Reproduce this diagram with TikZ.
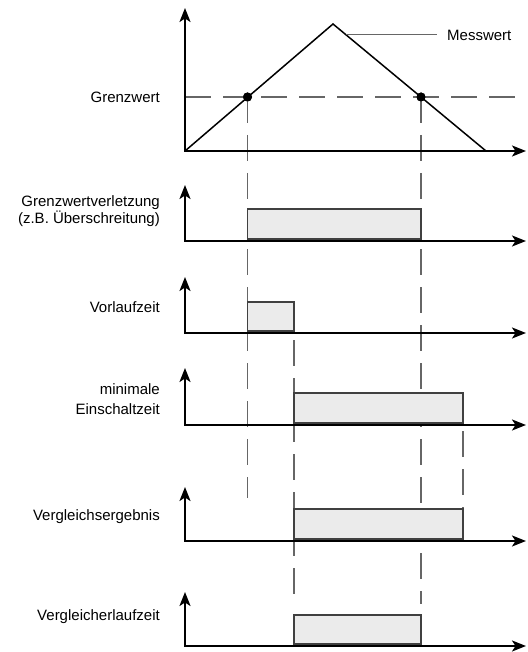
\documentclass[tikz,border=0pt]{standalone}
\usepackage{fontspec}
\setmainfont{Liberation Sans}
\usetikzlibrary{arrows.meta}
\begin{document}
\begin{tikzpicture}[x=1pt,y=-1pt,
 axis/.style={line width=1.8pt,line join=miter,{Stealth[length=14pt,width=11pt,inset=3.5pt]}-{Stealth[length=14pt,width=11pt,inset=3.5pt]}},
 guide/.style={draw=black!60,line width=1.3pt,dash pattern=on 26pt off 12pt},
 sig/.style={draw=black!75,fill=black!8,line width=1.2pt},
 lbl/.style={font=\fontsize{15}{17}\selectfont,anchor=east,align=right,inner sep=0pt},
 curve/.style={line width=1.5pt},
 leader/.style={draw=black!60,line width=1pt},
 dot/.style={circle,fill=black,inner sep=0pt,minimum size=9pt}]
\useasboundingbox (0,0) rectangle (527,652);

% axes coordinates
\foreach \n/\oy/\ty in {1/151/8,2/241/185,3/333/277,4/425/368,5/541/487,6/646/592}{
  \coordinate (o\n) at (185,\oy);
  \coordinate (yt\n) at (185,\ty);
  \coordinate (xt\n) at (526,\oy);
}

% measured value
\coordinate (p0) at (185,151);
\coordinate (peak) at (333,24);
\coordinate (pend) at (486,151);
\coordinate (lead) at (346,35);
\coordinate (gl) at (185,97);
\coordinate (gr) at (527,97);

% guide ends
\coordinate (g1e) at (247.5,498);
\coordinate (g2e) at (421,604);
\coordinate (g3s) at (294,302);
\coordinate (g3e) at (294,604);
\coordinate (g4s) at (463,393);
\coordinate (g4e) at (463,509);

\node[dot] (d1) at (247.5,97) {};
\node[dot] (d2) at (421,97) {};

% dashed guides
\draw[guide] (gl) -- (gr);
\draw[guide] (d1.center) -- (g1e);
\draw[guide] (d2.center) -- (g2e);
\draw[guide] (g3s) -- (g3e);
\draw[guide] (g4s) -- (g4e);

% signal boxes
\draw[sig] (247.5,209) rectangle (421,239);
\draw[sig] (247.5,302) rectangle (294,331);
\draw[sig] (294,393) rectangle (463,423);
\draw[sig] (294,509) rectangle (463,539);
\draw[sig] (294,615) rectangle (421,644);

% axes
\foreach \n in {1,...,6}{
  \draw[axis] (yt\n) -- (o\n) -- (xt\n);
}

% triangle
\draw[curve] (p0) -- (peak) -- (pend);
\node[dot] at (d1) {};
\node[dot] at (d2) {};

% labels
\node[anchor=west,font=\fontsize{15}{17}\selectfont,inner xsep=10pt,inner ysep=0pt] (mw) at (437,35) {Messwert};
\draw[leader] (lead) -- (mw.west);

\node[lbl] (l1) at (160,97) {Grenzwert};
\node[lbl,font=\fontsize{15}{16.5}\selectfont] (l2) at (160,211) {Grenzwertverletzung\\(z.B. Überschreitung)};
\node[lbl] (l3) at (160,307) {Vorlaufzeit};
\node[lbl,font=\fontsize{15}{20}\selectfont] (l4) at (160,399) {minimale\\Einschaltzeit};
\node[lbl] (l5) at (160,517) {Vergleichsergebnis};
\node[lbl] (l6) at (160,617) {Vergleicherlaufzeit};
\end{tikzpicture}
\end{document}
